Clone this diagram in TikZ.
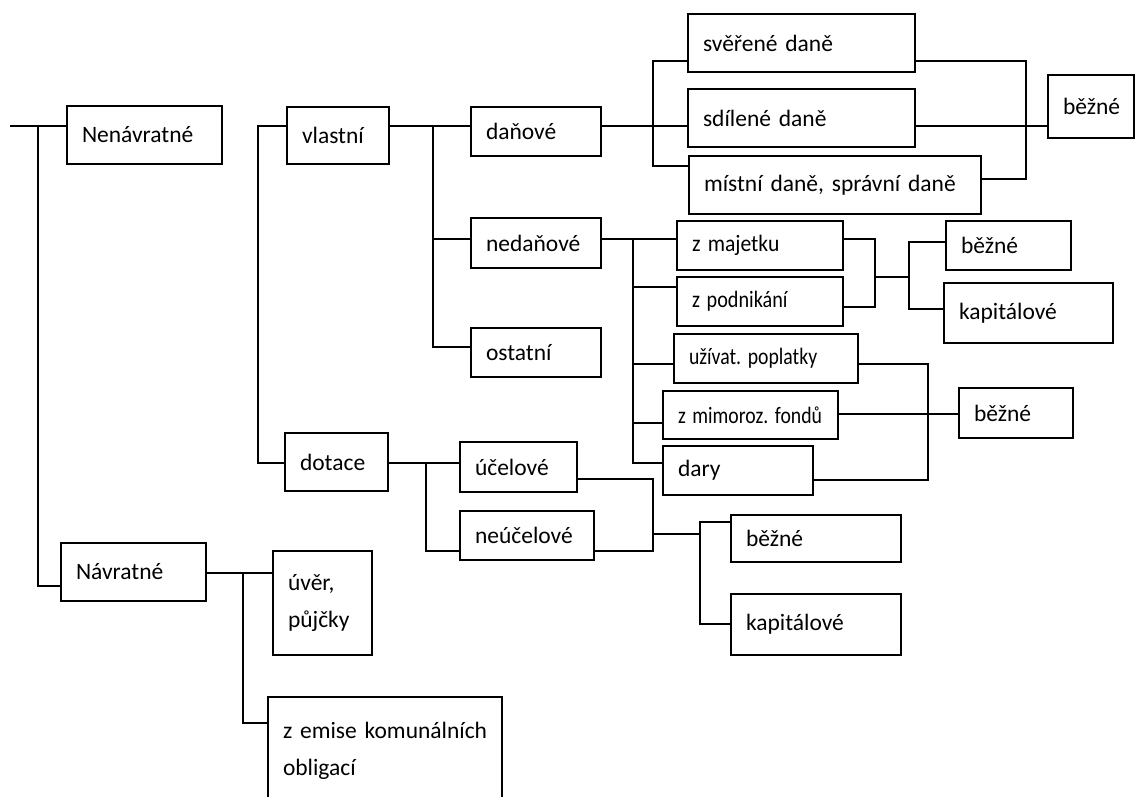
\documentclass[tikz,border=0pt]{standalone}
\usepackage{fontspec}
\usepackage{graphicx}
\setmainfont{Carlito}
\usetikzlibrary{calc}

% box: name, x, y (top left), width, height, text
\newcommand{\bx}[6]{%
  \pgfmathsetmacro\bxtw{#4-30}%
  \node[box, minimum width=#4pt, minimum height=#5pt, text width=\bxtw pt,
        anchor=north west] (#1) at (#2,#3) {#6};}
\newcommand{\nrw}[2]{\scalebox{#1}[1]{#2}}

\begin{document}
\begin{tikzpicture}[x=1pt, y=-1pt, line width=1.5pt,
    box/.style={draw, rectangle, inner xsep=15pt, inner ysep=0pt, outer sep=0pt,
                align=left, font=\fontsize{23.5}{37}\selectfont}]
  \useasboundingbox (0,0) rectangle (1139,796);
  \clip (0,0) rectangle (1139,796);
  % boxes
  \bx{nenav}{67}{106}{155}{58}{Nenávratné}
  \bx{navrat}{61}{543}{145}{58}{Návratné}
  \bx{uver}{273}{551}{99}{104}{úvěr,\\půjčky}
  \bx{emise}{268}{697}{234}{108}{\mbox{z emise komunálních}\\obligací}
  \bx{vlastni}{287}{107}{102}{57}{vlastní}
  \bx{danove}{471}{107}{130}{49}{daňové}
  \bx{sverene}{688}{14}{227}{58}{svěřené~daně}
  \bx{sdilene}{688}{89}{227}{58}{sdílené~daně}
  \bx{mistni}{689}{156}{292}{58}{místní~daně,~správní~daně}
  \bx{bezne1}{1048}{75}{86}{63}{běžné}
  \bx{nedanove}{471}{218}{130}{50}{nedaňové}
  \bx{ostatni}{471}{328}{130}{49}{ostatní}
  \bx{zmajetku}{677}{221}{166}{49}{\nrw{0.92}{z~majetku}}
  \bx{zpodnik}{677}{277}{166}{49}{\nrw{0.86}{z~podnikání}}
  \bx{uzivat}{674}{334}{184}{49}{\nrw{0.84}{užívat.~poplatky}}
  \bx{zmimo}{663}{391}{175}{48}{\nrw{0.84}{z~mimoroz.~fondů}}
  \bx{dary}{663}{446}{150}{49}{dary}
  \bx{bezne2}{946}{221}{125}{49}{běžné}
  \bx{kapital2}{944}{283}{169}{60}{kapitálové}
  \bx{bezne3}{959}{388}{114}{50}{běžné}
  \bx{dotace}{285}{433}{103}{58}{dotace}
  \bx{ucelove}{460}{442}{117}{50}{účelové}
  \bx{neucelove}{460}{511}{134}{49}{neúčelové}
  \bx{bezne4}{731}{515}{170}{47}{běžné}
  \bx{kapital4}{731}{594}{170}{61}{kapitálové}
  % junctions
  \coordinate (in) at (10,126);
  \coordinate (b0) at (38,126);   \coordinate (b0e) at (38,586);
  \coordinate (b1) at (258,126);  \coordinate (b1e) at (258,463);
  \coordinate (b2) at (433,126);  \coordinate (b2a) at (433,239);
  \coordinate (b2e) at (433,347);
  \coordinate (b3) at (653,126);  \coordinate (b3t) at (653,61);
  \coordinate (b3e) at (653,166);
  \coordinate (b4t) at (1026,61); \coordinate (b4e) at (1026,179);
  \coordinate (b5) at (633,239);  \coordinate (b5b) at (633,287);
  \coordinate (b5c) at (633,364); \coordinate (b5d) at (633,423);
  \coordinate (b5e) at (633,463);
  \coordinate (b6t) at (875,239); \coordinate (b6m) at (875,277);
  \coordinate (b6e) at (875,307);
  \coordinate (b7t) at (909,242); \coordinate (b7m) at (909,277);
  \coordinate (b7e) at (909,309);
  \coordinate (b8t) at (928,364); \coordinate (b8m) at (928,414);
  \coordinate (b8e) at (928,480);
  \coordinate (b9) at (426,463);  \coordinate (b9e) at (426,551);
  \coordinate (b10t) at (653,479); \coordinate (b10m) at (653,534);
  \coordinate (b10e) at (653,551);
  \coordinate (b11t) at (700,522); \coordinate (b11m) at (700,534);
  \coordinate (b11e) at (700,624);
  \coordinate (b12) at (243,573); \coordinate (b12e) at (243,723);
  % Nenávratné / Návratné
  \draw (in) -- (nenav.west |- in);
  \draw (b0) -- (b0e) -- (navrat.west |- b0e);
  % vlastní / dotace
  \draw (vlastni.west |- b1) -- (b1) -- (b1e) -- (dotace.west |- b1e);
  \draw (vlastni.east |- b2) -- (danove.west |- b2);
  \draw (b2) -- (b2e) -- (ostatni.west |- b2e);
  \draw (b2a) -- (nedanove.west |- b2a);
  % daňové
  \draw (danove.east |- b3) -- (sdilene.west |- b3);
  \draw (sverene.west |- b3t) -- (b3t) -- (b3e) -- (mistni.west |- b3e);
  \draw (sverene.east |- b4t) -- (b4t) -- (b4e) -- (mistni.east |- b4e);
  \draw (sdilene.east |- b3) -- (bezne1.west |- b3);
  % nedaňové
  \draw (nedanove.east |- b5) -- (zmajetku.west |- b5);
  \draw (b5) -- (b5e) -- (dary.west |- b5e);
  \foreach \c/\n in {b5b/zpodnik, b5c/uzivat, b5d/zmimo}
    \draw (\c) -- (\n.west |- \c);
  \draw (zmajetku.east |- b6t) -- (b6t) -- (b6e) -- (zpodnik.east |- b6e);
  \draw (b6m) -- (b7m);
  \draw (bezne2.west |- b7t) -- (b7t) -- (b7e) -- (kapital2.west |- b7e);
  \draw (uzivat.east |- b8t) -- (b8t) -- (b8e) -- (dary.east |- b8e);
  \draw (zmimo.east |- b8m) -- (bezne3.west |- b8m);
  % dotace
  \draw (dotace.east |- b9) -- (ucelove.west |- b9);
  \draw (b9) -- (b9e) -- (neucelove.west |- b9e);
  \draw (ucelove.east |- b10t) -- (b10t) -- (b10e) -- (neucelove.east |- b10e);
  \draw (b10m) -- (b11m);
  \draw (bezne4.west |- b11t) -- (b11t) -- (b11e) -- (kapital4.west |- b11e);
  % Návratné
  \draw (navrat.east |- b12) -- (uver.west |- b12);
  \draw (b12) -- (b12e) -- (emise.west |- b12e);
\end{tikzpicture}
\end{document}
